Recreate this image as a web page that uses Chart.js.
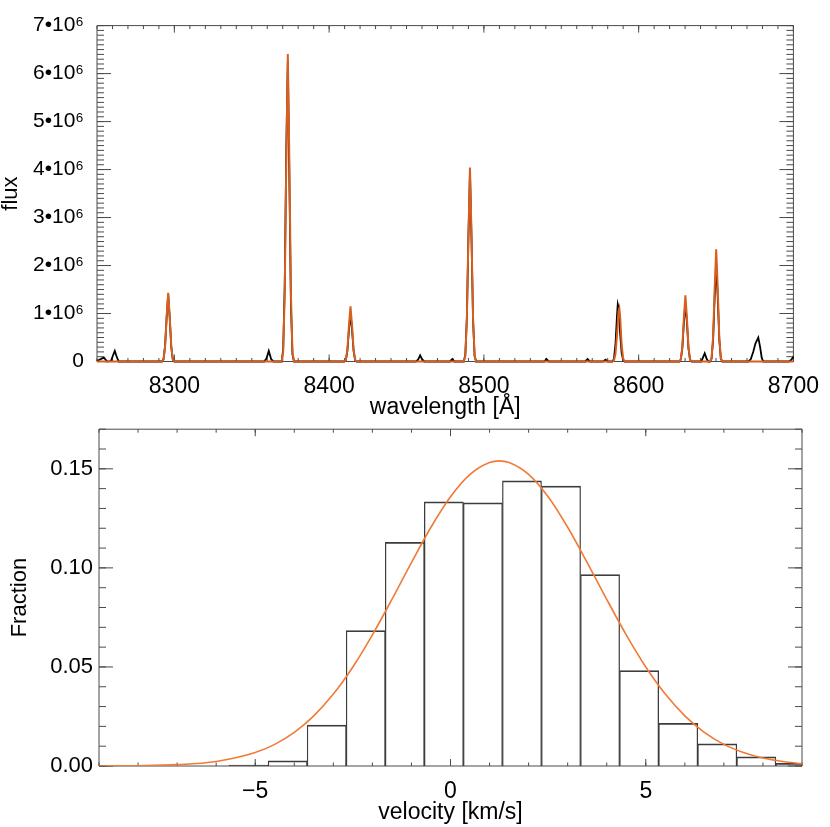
<!DOCTYPE html>
<html>
<head>
<meta charset="utf-8">
<script src="https://cdn.jsdelivr.net/npm/chart.js@4.4.1/dist/chart.umd.min.js"></script>
<style>
  html, body { margin: 0; padding: 0; background: #fff; }
  body { width: 830px; height: 827px; position: relative; overflow: hidden; }
  canvas { position: absolute; left: 0; }
  #top { top: 0; }
  #bot { top: 410px; }
</style>
</head>
<body>
<canvas id="top" width="830" height="430"></canvas>
<canvas id="bot" width="830" height="417"></canvas>
<script>
// ---------------- DATA ----------------
// Top panel: spectrum (black) and model (orange); flux in units of 10^6
const FLUX_UNIT = 1e6;
const specWave = [
  8250, 8253, 8254.5, 8256.5, 8259, 8260.5, 8261.5, 8262.5, 8264,
  8292, 8293, 8294, 8295, 8296, 8297, 8298, 8299, 8300,
  8358, 8359.5, 8361, 8362.5, 8364,
  8369.3, 8370.3, 8371.3, 8372.3, 8373.3, 8374.3, 8375.3, 8376.3, 8377.3,
  8409.8, 8410.8, 8411.8, 8412.8, 8413.8, 8414.8, 8415.8, 8416.8, 8417.8,
  8456, 8457.5, 8458.8, 8460, 8461.5,
  8478, 8479.6, 8481,
  8487, 8488, 8489, 8490, 8491, 8492, 8493, 8494, 8495,
  8539, 8540.4, 8542,
  8565.5, 8567, 8568.5,
  8577, 8578.6, 8580,
  8583, 8584, 8585, 8586, 8586.5, 8587, 8587.5, 8588, 8589, 8590, 8591,
  8626.2, 8627.2, 8628.2, 8629.2, 8630.2, 8631.2, 8632.2, 8633.2, 8634.2,
  8640.5, 8641.5, 8642.7, 8644, 8645,
  8646.1, 8647.1, 8648.1, 8649.1, 8650.1, 8651.1, 8652.1, 8653.1, 8654.1,
  8671, 8672.5, 8674, 8675.5, 8677.3, 8678.5, 8679.5, 8680.5,
  8697, 8698.5, 8700
];
const specFlux = [
  0.01, 0.06, 0.08, 0.00, 0.01, 0.14, 0.22, 0.12, 0.00,
  0.00, 0.05, 0.33, 0.92, 1.40, 0.90, 0.30, 0.04, 0.00,
  0.00, 0.06, 0.22, 0.05, 0.00,
  0.00, 0.25, 1.60, 4.40, 6.25, 3.80, 1.20, 0.15, 0.00,
  0.00, 0.03, 0.22, 0.66, 1.00, 0.66, 0.22, 0.03, 0.00,
  0.00, 0.04, 0.13, 0.05, 0.00,
  0.00, 0.05, 0.00,
  0.00, 0.14, 0.92, 2.60, 3.95, 2.55, 0.85, 0.11, 0.00,
  0.00, 0.05, 0.00,
  0.00, 0.05, 0.00,
  0.00, 0.04, 0.00,
  0.00, 0.05, 0.35, 0.95, 1.19, 1.12, 0.90, 0.60, 0.18, 0.02, 0.00,
  0.00, 0.04, 0.27, 0.80, 1.22, 0.80, 0.27, 0.04, 0.00,
  0.00, 0.08, 0.17, 0.05, 0.00,
  0.00, 0.06, 0.45, 1.33, 2.05, 1.33, 0.45, 0.06, 0.00,
  0.00, 0.05, 0.20, 0.38, 0.50, 0.30, 0.08, 0.00,
  0.00, 0.03, 0.10
];
const modelFlux = [
  0, 0, 0, 0, 0, 0, 0, 0, 0,
  0.00, 0.04, 0.31, 0.93, 1.43, 0.93, 0.31, 0.04, 0.00,
  0, 0, 0, 0, 0,
  0.00, 0.19, 1.41, 4.17, 6.41, 4.17, 1.41, 0.19, 0.00,
  0.00, 0.03, 0.25, 0.75, 1.15, 0.75, 0.25, 0.03, 0.00,
  0, 0, 0, 0, 0,
  0, 0, 0,
  0.00, 0.12, 0.89, 2.63, 4.04, 2.63, 0.89, 0.12, 0.00,
  0, 0, 0,
  0, 0, 0,
  0, 0, 0,
  0.00, 0.02, 0.15, 0.55, 0.80, 1.05, 1.11, 0.95, 0.35, 0.06, 0.00,
  0.00, 0.04, 0.30, 0.90, 1.38, 0.90, 0.30, 0.04, 0.00,
  0, 0, 0, 0, 0,
  0.00, 0.07, 0.51, 1.52, 2.34, 1.52, 0.51, 0.07, 0.00,
  0, 0, 0, 0, 0, 0, 0, 0,
  0, 0, 0
];
const waveTicks = [8300, 8400, 8500, 8600, 8700];
const fluxTicks = [0, 1e6, 2e6, 3e6, 4e6, 5e6, 6e6, 7e6];

// Bottom panel: velocity histogram (bin centres, fraction) and fitted curve
const binVel  = [-5.17, -4.17, -3.17, -2.17, -1.17, -0.17, 0.83, 1.83, 2.83, 3.83, 4.83, 5.83, 6.83, 7.83, 8.83];
const binFrac = [0.0005, 0.0026, 0.0206, 0.0684, 0.1129, 0.1334, 0.1328, 0.1440, 0.1413, 0.0966, 0.0482, 0.0216, 0.0112, 0.0046, 0.0013];
const fitVel  = [-9, -8, -7, -6, -5, -4.5, -4, -3.5, -3, -2.5, -2, -1.5, -1, -0.5, 0, 0.5, 1, 1.25, 1.5, 2, 2.5, 3, 3.5, 4, 4.5, 5, 5.5, 6, 6.5, 7, 7.5, 8, 8.5, 9];
const fitFrac = [0.00003, 0.00016, 0.00067, 0.0023, 0.0068, 0.0109, 0.0170, 0.0253, 0.0363, 0.0500, 0.0662, 0.0841, 0.1027, 0.1205, 0.1359, 0.1472, 0.1532, 0.1540, 0.1532, 0.1472, 0.1359, 0.1205, 0.1027, 0.0841, 0.0662, 0.0500, 0.0363, 0.0253, 0.0170, 0.0109, 0.0068, 0.0040, 0.0023, 0.0012];
const velTicks  = [-5, 0, 5];
const fracTicks = [0, 0.05, 0.10, 0.15];

// ---------------- helpers ----------------
const FONT = "'Liberation Sans', Helvetica, Arial, sans-serif";
const AXIS_COLOR = '#4a4a4a';

const frameTicks = {
  id: 'frameTicks',
  beforeDatasetsDraw(chart, args, o) {
    const { ctx, chartArea: { left, right, top, bottom }, scales: { x, y } } = chart;
    ctx.save();
    ctx.strokeStyle = AXIS_COLOR;
    ctx.lineWidth = 1;
    ctx.beginPath();
    ctx.rect(left, top, right - left, bottom - top);
    const xTick = (v, len) => {
      const p = x.getPixelForValue(v);
      ctx.moveTo(p, bottom); ctx.lineTo(p, bottom - len);
      ctx.moveTo(p, top); ctx.lineTo(p, top + len);
    };
    const yTick = (v, len) => {
      const p = y.getPixelForValue(v);
      ctx.moveTo(left, p); ctx.lineTo(left + len, p);
      ctx.moveTo(right, p); ctx.lineTo(right - len, p);
    };
    for (let i = Math.ceil(x.min / o.xStep); i * o.xStep <= x.max + 1e-9; i++) xTick(i * o.xStep, o.xMinorLen);
    for (let i = Math.ceil(y.min / o.yStep - 1e-9); i * o.yStep <= y.max * (1 + 1e-9); i++) yTick(i * o.yStep, o.yMinorLen);
    o.xMajor.forEach(v => xTick(v, o.xMajorLen));
    o.yMajor.forEach(v => yTick(v, o.yMajorLen));
    ctx.stroke();
    ctx.restore();
  }
};

// ---------------- top chart ----------------
new Chart(document.getElementById('top'), {
  type: 'line',
  data: {
    datasets: [
      {
        label: 'model',
        data: specWave.map((w, i) => ({ x: w, y: modelFlux[i] * FLUX_UNIT })),
        borderColor: '#D95F1E', borderWidth: 2, pointRadius: 0, tension: 0,
        order: 0, clip: false
      },
      {
        label: 'spectrum',
        data: specWave.map((w, i) => ({ x: w, y: specFlux[i] * FLUX_UNIT })),
        borderColor: '#000000', borderWidth: 1.8, pointRadius: 0, tension: 0,
        order: 1, clip: false
      }
    ]
  },
  plugins: [frameTicks],
  options: {
    responsive: false, animation: false,
    layout: { padding: { left: 0, right: 26, top: 16, bottom: 0 } },
    plugins: {
      legend: { display: false }, tooltip: { enabled: false },
      frameTicks: { xStep: 10, yStep: 1e5, xMajor: waveTicks, yMajor: fluxTicks,
                    xMajorLen: 7, xMinorLen: 3.5, yMajorLen: 14, yMinorLen: 7 }
    },
    scales: {
      x: {
        type: 'linear', min: 8250, max: 8700,
        afterBuildTicks: s => { s.ticks = waveTicks.map(v => ({ value: v })); },
        afterFit: s => { s.height = 68.5; },
        grid: { display: false, drawTicks: false }, border: { display: false },
        ticks: { color: '#000', font: { family: FONT, size: 23 }, padding: 11, maxRotation: 0, autoSkip: false,
                 callback: v => String(v) },
        title: { display: true, text: 'wavelength [Å]', color: '#000', font: { family: FONT, size: 23 },
                 padding: { top: 0, bottom: 9 } }
      },
      y: {
        type: 'linear', min: 0, max: 7e6,
        afterBuildTicks: s => { s.ticks = fluxTicks.map(v => ({ value: v })); },
        afterFit: s => { s.width = 97; },
        grid: { display: false, drawTicks: false }, border: { display: false },
        ticks: { color: '#000', font: { family: FONT, size: 21 }, padding: 13, autoSkip: false,
                 callback: v => v === 0 ? '0' : (v / FLUX_UNIT) + '•10⁶' },
        title: { display: true, text: 'flux', color: '#000', font: { family: FONT, size: 22 },
                 padding: { top: -2, bottom: 0 } }
      }
    }
  }
});

// ---------------- bottom chart ----------------
new Chart(document.getElementById('bot'), {
  type: 'bar',
  data: {
    datasets: [
      {
        type: 'line', label: 'fit',
        data: fitVel.map((v, i) => ({ x: v, y: fitFrac[i] })),
        borderColor: '#F07A36', borderWidth: 1.6, pointRadius: 0,
        cubicInterpolationMode: 'monotone', order: 0
      },
      {
        type: 'bar', label: 'histogram',
        data: binVel.map((v, i) => ({ x: v, y: binFrac[i] })),
        backgroundColor: 'rgba(0,0,0,0)', borderColor: '#3c3c3c',
        borderWidth: { left: 0.6, right: 0.6, top: 1.1, bottom: 0 },
        barPercentage: 1, categoryPercentage: 1, borderSkipped: 'start', order: 1
      }
    ]
  },
  plugins: [frameTicks],
  options: {
    responsive: false, animation: false,
    layout: { padding: { left: 0, right: 28, top: 13, bottom: 0 } },
    plugins: {
      legend: { display: false }, tooltip: { enabled: false },
      frameTicks: { xStep: 1, yStep: 0.01, xMajor: velTicks, yMajor: fracTicks,
                    xMajorLen: 7, xMinorLen: 3.5, yMajorLen: 14, yMinorLen: 7 }
    },
    scales: {
      x: {
        type: 'linear', min: -9, max: 9, offset: false,
        afterBuildTicks: s => { s.ticks = velTicks.map(v => ({ value: v })); },
        afterFit: s => { s.height = 61; },
        grid: { display: false, drawTicks: false, offset: false }, border: { display: false },
        ticks: { color: '#000', font: { family: FONT, size: 23 }, padding: 12, maxRotation: 0, autoSkip: false,
                 callback: v => v < 0 ? '\u2212' + Math.abs(v) : String(v) },
        title: { display: true, text: 'velocity [km/s]', color: '#000', font: { family: FONT, size: 23 },
                 padding: { top: 0, bottom: 1 } }
      },
      y: {
        type: 'linear', min: 0, max: 0.17,
        afterBuildTicks: s => { s.ticks = fracTicks.map(v => ({ value: v })); },
        afterFit: s => { s.width = 99; },
        grid: { display: false, drawTicks: false }, border: { display: false },
        ticks: { color: '#000', font: { family: FONT, size: 22 }, padding: 6, autoSkip: false,
                 callback: v => v.toFixed(2) },
        title: { display: true, text: 'Fraction', color: '#000', font: { family: FONT, size: 22 },
                 padding: { top: 7, bottom: 0 } }
      }
    }
  }
});
</script>
</body>
</html>
